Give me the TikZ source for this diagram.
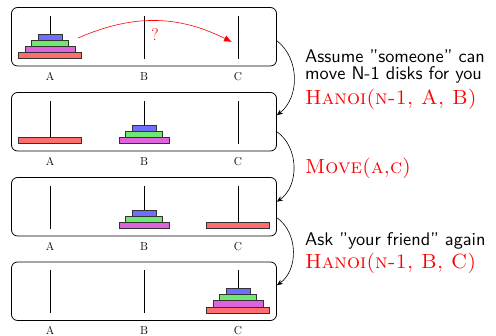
\documentclass[tikz,border=0pt]{standalone}
\usepackage{fontspec}
\newfontfamily\notefont{lmsans10-regular.otf}
\usetikzlibrary{arrows.meta,calc}
\definecolor{dred}{RGB}{255,110,110}
\definecolor{dmag}{RGB}{222,100,222}
\definecolor{dgreen}{RGB}{110,232,110}
\definecolor{dblue}{RGB}{110,110,255}
\begin{document}
\begin{tikzpicture}[x=1pt,y=1pt,
  panel/.style={draw, line width=0.8pt, rounded corners=6pt, minimum width=265pt, minimum height=58.5pt, inner sep=0pt},
  peg/.style={line width=0.8pt},
  lbl/.style={font=\fontsize{11.5}{13}\selectfont, inner sep=0pt},
  disk/.style={draw=black!80, line width=0.6pt, minimum height=6.2pt, inner sep=0pt, anchor=south},
  note/.style={font=\notefont\fontsize{18.3}{20}\selectfont, anchor=base west, inner sep=0pt},
  call/.style={font=\fontsize{20.5}{24}\selectfont\scshape, text=red, anchor=base west, inner sep=0pt},
  flow/.style={-{Stealth[length=6pt,width=5pt]}, line width=0.6pt},
]
\useasboundingbox (0,0) rectangle (496,336);
\foreach \i/\yc in {1/299.25,2/214.25,3/129.25,4/44.75}{
  \node[panel] (p\i) at (144,\yc) {};
  \foreach \px/\name in {50/A,144/B,238/C}{
    \draw[peg] (\px,\yc+20.75) -- (\px,\yc-22.25);
    \node[lbl] (l\i\name) at (\px,\yc-39.6) {\name};
  }
}
% panel 1
\node[disk, fill=dred, minimum width=63pt] (d1r) at (50,277) {};
\node[disk, fill=dmag, minimum width=50pt] (d1m) at (50,283.2) {};
\node[disk, fill=dgreen, minimum width=37pt] (d1g) at (50,289.4) {};
\node[disk, fill=dblue, minimum width=24pt] (d1b) at (50,295.6) {};
% panel 2
\node[disk, fill=dred, minimum width=63pt] (d2r) at (50,192) {};
\node[disk, fill=dmag, minimum width=50pt] (d2m) at (144,192) {};
\node[disk, fill=dgreen, minimum width=37pt] (d2g) at (144,198.2) {};
\node[disk, fill=dblue, minimum width=24pt] (d2b) at (144,204.4) {};
% panel 3
\node[disk, fill=dred, minimum width=63pt] (d3r) at (238,107) {};
\node[disk, fill=dmag, minimum width=50pt] (d3m) at (144,107) {};
\node[disk, fill=dgreen, minimum width=37pt] (d3g) at (144,113.2) {};
\node[disk, fill=dblue, minimum width=24pt] (d3b) at (144,119.4) {};
% panel 4
\node[disk, fill=dred, minimum width=63pt] (d4r) at (238,22.5) {};
\node[disk, fill=dmag, minimum width=50pt] (d4m) at (238,28.7) {};
\node[disk, fill=dgreen, minimum width=37pt] (d4g) at (238,34.9) {};
\node[disk, fill=dblue, minimum width=24pt] (d4b) at (238,41.1) {};
% question arrow
\coordinate (qs) at (78,298);
\coordinate (qe) at (232,294);
\draw[red, line width=0.6pt, -{Latex[length=8pt,width=6.5pt]}] (qs) to[bend left=25] (qe);
\node[text=red, font=\fontsize{17}{20}\selectfont, inner sep=0pt] (q) at (155,301.5) {?};
% flow arcs
\draw[flow] ($(p1.east)+(0,-4)$) to[bend left=52] ($(p2.east)+(0,6.5)$);
\draw[flow] ($(p2.east)+(0,-10)$) to[bend left=55] ($(p3.east)+(0,5)$);
\draw[flow] ($(p3.east)+(0,-11)$) to[bend left=55] ($(p4.east)+(0,6)$);
% texts
\node[note] (t1) at (305,273.3) {Assume ”someone” can};
\node[note] (t2) at (305,256.7) {move N-1 disks for you};
\node[call] (h1) at (305,231) {Hanoi(n-1, A, B)};
\node[call] (mv) at (305,162.7) {Move(a,c)};
\node[note] (t3) at (305,90) {Ask ”your friend” again};
\node[call] (h2) at (305,67.7) {Hanoi(n-1, B, C)};
\end{tikzpicture}
\end{document}
